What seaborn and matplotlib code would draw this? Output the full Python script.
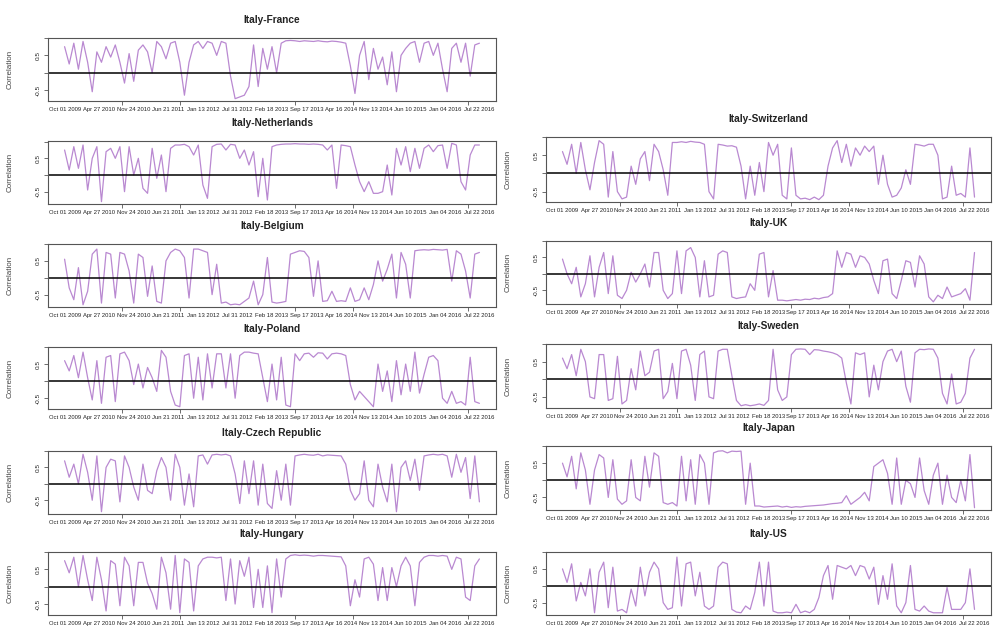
"""
Rolling correlation of Italy with eleven other markets, Oct 2009 - Aug 2016.
One small panel per pair, values read off the original figure.
"""

# ==========================================================
# IMPORT LIBRARIES
# ==========================================================

import numpy as np
import pandas as pd
import matplotlib.pyplot as plt
import seaborn as sns

# ==========================================================
# DATA (one value every 20 trading days)
# ==========================================================

france = [0.75, 0.25, 0.85, 0.1, 0.9, 0.3, -0.55, 0.6, 0.3, 0.75, 0.45, 0.8,
          0.3, -0.3, 0.55, -0.25,
          0.65, 0.8, 0.6, 0.0, 0.9, 0.75, 0.4, 0.85, 0.9, 0.3, -0.65,
          0.3, 0.8, 0.9, 0.7, 0.9, 0.85, 0.5, 0.9, 0.85, -0.1,
          -0.75, -0.7, -0.65, -0.4, 0.8, -0.4, 0.7, 0.1, 0.75, 0.0, 0.85,
          0.92, 0.93, 0.92, 0.9, 0.92, 0.91, 0.9, 0.92, 0.9, 0.89, 0.91, 0.9, 0.88,
          0.85, 0.2, -0.6, 0.5, 0.9, -0.2, 0.7, 0.1, 0.45, -0.35, 0.6, -0.55,
          0.5, 0.7, 0.85, 0.9, 0.3, 0.85, 0.9, 0.5, 0.85, 0.1, -0.55,
          0.7, 0.85, 0.3, 0.85, -0.1, 0.8, 0.85]

netherlands = [0.75, 0.15, 0.85, 0.2, 0.9, -0.45, 0.5, 0.85, -0.8, 0.7, 0.8, 0.5,
               0.85, -0.5, 0.85, 0.0, 0.5, -0.4, -0.55, 0.8, -0.1, 0.6, -0.5, 0.8,
               0.9, 0.9, 0.92, 0.85, 0.6, 0.9, -0.3, -0.7, 0.85, 0.92, 0.93, 0.75,
               0.92, 0.9, 0.5, 0.75, 0.3, 0.7, -0.65, 0.5, -0.75, 0.85,
               0.9, 0.92, 0.93, 0.93, 0.94, 0.93, 0.93, 0.92, 0.93, 0.92, 0.9,
               0.75, 0.9, -0.4, 0.9, 0.88, 0.85, 0.3, -0.2, -0.5, -0.2, -0.55, -0.55,
               -0.5, 0.3, -0.6, 0.8, 0.3, 0.85, 0.1, 0.8, 0.2, 0.8, 0.9,
               0.7, 0.88, 0.9, 0.2, 0.95, 0.9, -0.2, -0.45, 0.6, 0.9, 0.9]

belgium = [0.55, -0.3, -0.65, 0.3, -0.8, -0.4, 0.7, 0.85, -0.75, 0.75, 0.7,
           -0.6, 0.75, 0.7, 0.2, -0.75, 0.7, 0.6, -0.55, 0.35, -0.7, -0.75,
           0.5, 0.75, 0.85, 0.8, 0.6, -0.6, 0.85, 0.85, 0.8, 0.75, -0.5, 0.4,
           -0.75, -0.72, -0.8, -0.78, -0.8, -0.7, -0.6, -0.1, -0.8, -0.5, 0.6, -0.72,
           -0.75, -0.73, -0.7, 0.7, 0.75, 0.8, 0.78, 0.6, -0.55, 0.5, -0.7, -0.68,
           -0.4, -0.7, -0.68, -0.7, -0.3, -0.7, -0.65, -0.3, -0.65, -0.2, 0.5, -0.1,
           0.25, 0.7, -0.6, 0.75, 0.4, -0.6, 0.8,
           0.82, 0.83, 0.82, 0.84, 0.83, 0.82, 0.84,
           -0.1, 0.8, 0.7, 0.2, -0.6, 0.7, 0.75]

poland = [0.6, 0.3, 0.75, 0.1, 0.85, 0.1, -0.55, 0.6, -0.65, 0.7, 0.75, -0.6,
          0.8, 0.85, 0.6, -0.1, 0.5, -0.2, 0.4, 0.1, -0.3, 0.9, 0.7, -0.3,
          -0.7, -0.75, 0.75, 0.8, -0.5, 0.7, -0.55, 0.8, -0.2, 0.8, 0.8, -0.2,
          0.8, -0.5, 0.75, 0.85, 0.85, 0.82, 0.8, 0.1, -0.6, 0.5, -0.55, 0.7,
          -0.7, -0.75, 0.8, 0.6,
          0.8, 0.82, 0.7, 0.83, 0.82, 0.65, 0.8, 0.82, 0.8, 0.75, -0.1,
          -0.55, -0.3, -0.45, -0.6, -0.75, 0.5, -0.3, 0.3, -0.6, 0.6, -0.4, 0.5,
          -0.3, 0.85, -0.35, 0.2, 0.7, 0.75, 0.6, -0.5, -0.65, -0.3, -0.65, -0.6,
          -0.7, 0.7, -0.6, -0.65]

czech = [0.7, 0.2, 0.6, 0.0, 0.9, 0.35, -0.5, 0.85, -0.85, 0.5, 0.75, 0.7,
         -0.55, 0.85, 0.5, -0.1, -0.5, 0.6, -0.2, -0.3, 0.4, 0.8, 0.5, -0.5,
         0.9, 0.5, -0.65, 0.3, -0.7, 0.85,
         0.88, 0.6, 0.88, 0.9, 0.88, 0.9,
         0.85, 0.3, -0.6, 0.7, -0.3, 0.7, -0.65, 0.6, -0.6, -0.75, 0.4, -0.5, 0.6, -0.65, 0.85,
         0.88, 0.9, 0.88, 0.87, 0.9, 0.85, 0.88, 0.87, 0.86, 0.85,
         0.6, -0.2, -0.5, -0.3, 0.7, -0.5, -0.7, 0.6, -0.1, -0.55, 0.6, -0.85,
         0.5, 0.7, 0.1, 0.75, -0.2, 0.85,
         0.88, 0.9, 0.88, 0.9, 0.85,
         0.2, 0.9, 0.35, 0.8, -0.45, 0.85, -0.55]

hungary = [0.75, 0.4, 0.85, 0.0, 0.9, 0.2, -0.4, 0.85, 0.2, -0.7, 0.75, 0.65, -0.55, 0.85, 0.6,
           -0.55, 0.7, 0.7, 0.1, -0.2, -0.65, 0.85, 0.4, -0.65, 0.9, -0.75, 0.8, 0.7, -0.7, 0.6,
           0.8, 0.85, 0.85, 0.83, 0.85, -0.4, 0.8, -0.5, 0.75, 0.3, 0.85, -0.6, 0.5, -0.6,
           0.6, -0.75, 0.8, -0.3, 0.8,
           0.9, 0.92, 0.9, 0.91, 0.9, 0.88, 0.9, 0.9, 0.89, 0.88, 0.87, 0.86,
           0.6, -0.55, 0.2, -0.3, 0.8, 0.85, 0.65, -0.4, 0.55, -0.4, 0.55, 0.0,
           0.6, 0.85, 0.6, -0.55, 0.7, 0.85,
           0.9, 0.9, 0.88, 0.9, 0.88,
           0.5, 0.85, 0.8, -0.3, -0.4, 0.6, 0.8]

switzerland = [0.6, 0.25, 0.8, 0.0, 0.85, 0.1, -0.45, 0.3, 0.9, 0.8, -0.65, 0.6,
               -0.5, -0.7, -0.65, 0.2, -0.3, 0.4, 0.6, -0.2, 0.8, 0.6, 0.1, -0.6, 0.85,
               0.85, 0.87, 0.85, 0.88, 0.86, 0.85, 0.8,
               -0.5, -0.7, 0.8, 0.78, 0.75, 0.76, 0.72,
               0.2, -0.7, 0.2, -0.6, 0.3, -0.5, 0.85, 0.5, 0.8, -0.6, -0.7, 0.7, -0.6,
               -0.7, -0.68, -0.72, -0.65, -0.72, -0.6,
               0.2, 0.7, 0.9, 0.3, 0.8, 0.2, 0.7, 0.5, 0.75, 0.6, 0.75,
               -0.3, 0.5, -0.3, -0.65, -0.6, -0.4, 0.1, -0.3,
               0.8, 0.78, 0.75, 0.8, 0.8, 0.5,
               -0.7, -0.65, 0.2, -0.6, -0.55, -0.65, 0.7, -0.65]

uk = [0.45, 0.0, -0.3, 0.2, -0.7, -0.3, 0.55, -0.7, 0.2, 0.65, -0.6, 0.55,
      -0.65, -0.75, -0.5, 0.05, -0.25, 0.0, 0.3, -0.4, 0.65, 0.65, -0.5, -0.75, -0.6,
      0.7, -0.6, 0.7, 0.8, 0.5, -0.7, 0.4, -0.7, -0.65, 0.6, 0.7, 0.65,
      -0.7, -0.75, -0.72, -0.7, -0.3, -0.5, 0.6, 0.65, -0.7, 0.1, -0.8,
      -0.8, -0.82, -0.8, -0.78, -0.8, -0.77, -0.78, -0.74, -0.76, -0.72, -0.7,
      -0.6, 0.7, 0.2, 0.65, 0.6, 0.2, 0.55, 0.5, 0.3, -0.2, -0.6, 0.4, 0.45,
      -0.6, -0.75, -0.2, 0.4, 0.35, -0.4, 0.55, 0.3, -0.7, -0.85, -0.65, -0.75,
      -0.4, -0.7, -0.65, -0.6, -0.45, -0.8, 0.65]

sweden = [0.6, 0.3, 0.7, 0.1, 0.85, 0.5, -0.5, -0.55, 0.7, 0.7, -0.6, -0.55,
          0.65, -0.7, -0.6, 0.3, -0.3, 0.8, 0.1, 0.2, 0.8, 0.85, -0.55, -0.35, 0.45,
          -0.55, 0.8, 0.85, 0.4, -0.6, 0.7, 0.8, -0.5, -0.55, 0.8, 0.85, 0.85, 0.1, -0.6, -0.75,
          -0.72, -0.75, -0.73, -0.7, -0.74, -0.6,
          0.85, -0.3, -0.6, -0.5, 0.7,
          0.85, 0.86, 0.85, 0.7, 0.84, 0.83, 0.8, 0.78, 0.75, 0.7,
          0.6, -0.1, -0.7, 0.75, 0.7, 0.75, -0.5, 0.4, -0.3, 0.5, 0.8, 0.85, 0.5, 0.8,
          -0.2, -0.65, 0.75,
          0.85, 0.84, 0.86, 0.85, 0.6,
          -0.4, -0.7, 0.15, -0.7, -0.65, -0.4, 0.6, 0.85]

japan = [0.5, 0.1, 0.7, -0.25, 0.8, 0.3, -0.7, 0.3, 0.75, 0.65, -0.5, 0.6, -0.55, -0.7, -0.6,
         0.6, -0.5, -0.6, 0.7, -0.2, 0.8, 0.7, -0.65, -0.7, -0.65, -0.75, 0.7, -0.6, 0.6,
         -0.7, 0.75, 0.5, -0.7, 0.8,
         0.85, 0.86, 0.8, 0.85, 0.84, 0.85, -0.7, 0.5, -0.75,
         -0.75, -0.78, -0.77, -0.76, -0.75, -0.78, -0.76, -0.79, -0.77, -0.78,
         -0.76, -0.75, -0.74, -0.73, -0.72, -0.7, -0.68, -0.67,
         -0.65, -0.45, -0.7, -0.6, -0.5, -0.35, -0.6, 0.4, 0.5, 0.6, 0.2, -0.7, 0.65, -0.7, 0.0,
         -0.1, -0.5, 0.65, -0.3, -0.7, 0.15, 0.5, -0.7, 0.15, -0.5, -0.65, 0.0, -0.6, 0.75, -0.8]

us = [0.5, 0.1, 0.65, -0.45, 0.1, -0.3, 0.5, -0.8, 0.4, 0.7, -0.65, 0.55,
      -0.75, -0.7, -0.8, -0.1, -0.6, 0.55, -0.3, 0.4, 0.7, 0.5, -0.5, -0.7, -0.65,
      0.85, -0.6, 0.65, 0.7, -0.3, 0.4, -0.6, -0.7, -0.6, 0.55, 0.7, 0.65,
      -0.7, -0.78, -0.8, -0.6, -0.7, -0.2, 0.7, -0.6, 0.7, -0.75,
      -0.8, -0.8, -0.78, -0.8, -0.55, -0.8, -0.75, -0.8, -0.7, -0.35,
      0.3, 0.6, -0.4, 0.6, 0.55, 0.5, 0.6, 0.3, 0.6, 0.55, 0.2, 0.55,
      -0.55, 0.3, -0.4, 0.65, -0.6, -0.8, -0.5, 0.6, -0.7, -0.75, -0.6, -0.75,
      -0.8, -0.8, -0.8, -0.05, -0.7, -0.7, -0.7, -0.5, 0.5, -0.7]

date_labels = ["Oct 01 2009", "Apr 27 2010", "Nov 24 2010", "Jun 21 2011",
               "Jan 13 2012", "Jul 31 2012", "Feb 18 2013", "Sep 17 2013",
               "Apr 16 2014", "Nov 13 2014", "Jun 10 2015", "Jan 04 2016",
               "Jul 22 2016"]

# observation number of each value (one every 20 trading days)
obs_index = np.arange(len(france)) * 20

# label every 150 obs, plain tick marks every 250 obs (as in the R plot)
label_pos = np.arange(len(date_labels)) * 150
tick_pos = np.arange(8) * 250

# ==========================================================
# PANEL LAYOUT (pixel boxes: left, top, right, bottom)
# ==========================================================

W, H = 994, 629

panels = [
    ("Italy-France", france, (48, 38, 496, 101)),
    ("Italy-Netherlands", netherlands, (48, 141, 496, 204)),
    ("Italy-Belgium", belgium, (48, 244, 496, 307)),
    ("Italy-Poland", poland, (48, 347, 496, 409)),
    ("Italy-Czech Republic", czech, (48, 451, 496, 514)),
    ("Italy-Hungary", hungary, (48, 552, 496, 615)),
    ("Italy-Switzerland", switzerland, (546, 137, 991, 202)),
    ("Italy-UK", uk, (546, 241, 991, 304)),
    ("Italy-Sweden", sweden, (546, 344, 991, 408)),
    ("Italy-Japan", japan, (546, 446, 991, 510)),
    ("Italy-US", us, (546, 552, 991, 615)),
]

# ==========================================================
# STYLE
# ==========================================================

sns.set_theme(style="white")
plt.rcParams["font.family"] = ["Liberation Sans", "DejaVu Sans"]

line_color = "#b27ccc"
frame_color = "#555555"

# ==========================================================
# DRAW
# ==========================================================

fig = plt.figure(figsize=(W / 100, H / 100), dpi=100)
fig.patch.set_facecolor("white")

for title, values, (x0, y0, x1, y1) in panels:
    ax = fig.add_axes([x0 / W, 1 - y1 / H, (x1 - x0) / W, (y1 - y0) / H])

    df = pd.DataFrame({"obs": obs_index, "corr": values})
    sns.lineplot(data=df, x="obs", y="corr", ax=ax,
                 color=line_color, linewidth=0.9, alpha=0.9)

    # zero reference line
    ax.axhline(0, color="black", linewidth=1.1)

    # R style limits: data range plus 4 %
    pad_x = 0.04 * obs_index.max()
    ax.set_xlim(-pad_x, obs_index.max() + pad_x)
    lo, hi = min(values), max(values)
    pad_y = 0.04 * (hi - lo)
    ax.set_ylim(lo - pad_y, hi + pad_y)

    # x axis: date labels without marks, small marks without labels
    ax.set_xticks(label_pos)
    ax.set_xticklabels(date_labels, fontsize=4.2, color="#222222")
    ax.set_xticks(tick_pos, minor=True)
    ax.tick_params(axis="x", which="major", length=0, pad=4.5)
    ax.tick_params(axis="x", which="minor", length=3, width=0.6,
                   color=frame_color, bottom=True)

    # y axis: marks at -0.5, 0, 0.5, 1 but only two labels (R skips the rest)
    ax.set_yticks([-0.5, 0, 0.5, 1.0])
    ax.set_yticklabels(["-0.5", "", "0.5", ""], fontsize=4.6,
                       rotation=90, va="center", color="#222222")
    ax.tick_params(axis="y", length=3, width=0.6, color=frame_color,
                   left=True, pad=2)

    ax.set_xlabel("")
    ax.set_ylabel("Correlation", fontsize=5.8, color="#444444")
    ax.yaxis.set_label_coords(-34 / (x1 - x0), 0.5)

    ax.set_title(title, fontsize=7.3, fontweight="bold", color="#222222", pad=11)

    for spine in ax.spines.values():
        spine.set_color(frame_color)
        spine.set_linewidth(0.8)

fig.savefig("out.png", dpi=100, facecolor="white")
